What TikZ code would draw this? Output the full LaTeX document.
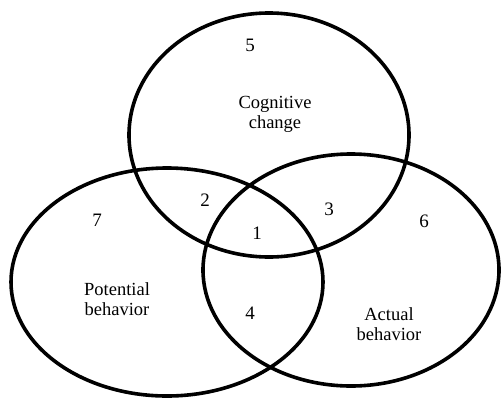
\documentclass[tikz,border=0pt]{standalone}
\usepackage{fontspec}
\setmainfont{Liberation Serif}
\begin{document}
\begin{tikzpicture}[x=1pt,y=-1pt,
  setring/.style={draw=black,line width=3.6pt},
  lbl/.style={font=\fontsize{18.5}{23}\selectfont,inner sep=0pt,align=center},
  num/.style={font=\fontsize{19}{23}\selectfont,inner sep=0pt}]
\useasboundingbox (0,0) rectangle (502,399);
% the three overlapping sets
\draw[setring] (269,135) ellipse [x radius=140, y radius=122];
\draw[setring] (167,282) ellipse [x radius=156, y radius=114];
\draw[setring] (351,270) ellipse [x radius=148, y radius=116];
% set names
\node[lbl] (cog) at (275,114) {Cognitive\\[-3pt]change};
\node[lbl] (pot) at (117,299) {Potential\\[-3pt]behavior};
\node[lbl] (act) at (389,324) {Actual\\[-3pt]behavior};
% region numbers
\node[num] (n5) at (250,45) {5};
\node[num] (n2) at (205,200) {2};
\node[num] (n7) at (97,220) {7};
\node[num] (n1) at (257,233) {1};
\node[num] (n3) at (329,209) {3};
\node[num] (n6) at (424,221) {6};
\node[num] (n4) at (250,313) {4};
\end{tikzpicture}
\end{document}
